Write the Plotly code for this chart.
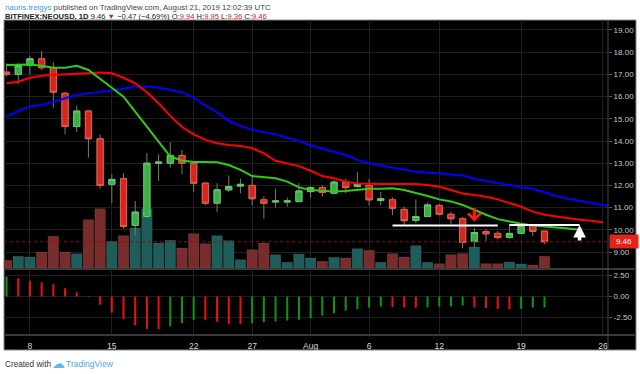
import plotly.graph_objects as go
import pandas as pd
import numpy as np

# ---------------- data ----------------
dates = pd.date_range("2019-07-06", "2019-08-21", freq="D")

open_ = [17.1, 17.0, 17.4, 17.7, 17.3, 16.15, 14.65, 15.35, 14.1, 12.05, 12.3, 10.2, 10.6,
         13.0, 13.0, 13.35, 13.0, 12.1, 11.2, 11.8, 11.97, 12.0, 11.35, 11.25, 11.25, 11.27,
         11.72, 11.9, 11.65, 12.15, 11.95, 12.0, 11.32, 11.35, 10.92, 10.42, 10.6, 11.1, 10.7,
         10.5, 9.47, 9.92, 9.84, 9.66, 9.84, 10.19, 9.94]
high = [17.5, 17.5, 17.85, 18.05, 17.55, 16.2, 15.6, 15.4, 14.3, 12.5, 12.55, 11.3, 13.45,
        13.4, 13.95, 13.6, 13.1, 12.15, 12.1, 12.45, 12.3, 12.4, 11.5, 11.85, 11.45, 12.1,
        11.95, 12.0, 12.25, 12.3, 12.6, 12.3, 11.7, 11.46, 11.05, 11.37, 11.22, 11.15, 10.82,
        10.57, 10.08, 10.03, 9.95, 10.23, 10.25, 10.23, 9.95]
low = [16.9, 16.55, 17.0, 17.2, 15.5, 14.3, 14.4, 13.25, 11.85, 11.2, 10.05, 9.75, 10.55,
       12.2, 12.8, 12.5, 11.7, 11.1, 10.8, 11.7, 11.65, 11.1, 10.5, 11.0, 11.05, 11.25,
       11.45, 11.5, 11.6, 11.65, 11.9, 11.1, 11.1, 10.66, 10.22, 10.3, 10.58, 10.65, 10.27,
       9.17, 9.21, 9.5, 9.57, 9.6, 9.82, 9.72, 9.36]
close = [17.0, 17.4, 17.7, 17.3, 16.2, 14.65, 15.35, 14.1, 12.0, 12.27, 10.15, 10.8, 13.0,
         13.05, 13.35, 13.0, 12.1, 11.2, 11.8, 11.95, 12.05, 11.4, 11.2, 11.3, 11.3, 11.75,
         11.9, 11.68, 12.15, 11.9, 12.05, 11.35, 11.4, 10.97, 10.41, 10.6, 11.12, 10.7, 10.5,
         9.43, 9.88, 9.82, 9.65, 9.84, 10.18, 9.93, 9.46]
volume = [7.6, 11.7, 11.0, 16.0, 31.7, 16.0, 14.3, 48.3, 59.3, 26.7, 32.3, 40.0, 59.3,
          25.0, 27.7, 20.0, 34.3, 24.3, 32.3, 27.3, 8.3, 18.3, 25.0, 13.3, 5.7, 14.0,
          10.0, 6.7, 10.7, 10.0, 19.3, 17.7, 5.7, 14.3, 11.0, 22.3, 5.7, 4.3, 13.3,
          14.3, 21.0, 4.3, 4.3, 6.0, 4.0, 3.0, 11.7]
oscillator = [2.36, 2.17, 1.88, 1.69, 1.45, 0.98, 0.5, -0.08, -0.99, -1.92, -2.67, -3.43, -3.87,
              -3.9, -3.57, -3.17, -2.79, -2.82, -3.02, -3.25, -3.29, -3.17, -3.05, -2.98, -2.86, -2.78,
              -2.58, -2.28, -2.0, -1.68, -1.5, -1.31, -1.19, -1.27, -1.31, -1.33, -1.30, -1.19, -1.18,
              -1.07, -1.31, -1.39, -1.47, -1.5, -1.46, -1.31, -1.30]

# alligator lines (shifted forward beyond the last candle)
lips_green = [17.42, 17.45, 17.45, 17.39, 17.3, 17.3, 17.39, 17.2, 16.82, 16.4, 16.0, 15.32, 14.64,
              13.94, 13.3, 13.12, 13.05, 13.05, 13.04, 12.92, 12.7, 12.42, 12.36, 12.32, 12.17, 11.91,
              11.79, 11.75, 11.72, 11.75, 11.79, 11.85, 11.85, 11.87, 11.79, 11.67, 11.52, 11.37, 11.28,
              11.12, 10.89, 10.68, 10.48, 10.37, 10.27, 10.19, 10.15, 10.12, 10.06, 10.0]
teeth_red = [16.6, 16.67, 16.85, 16.94, 16.97, 17.0, 17.0, 17.05, 17.09, 17.05, 16.85, 16.6, 16.2,
             15.7, 15.13, 14.63, 14.3, 14.05, 13.9, 13.82, 13.78, 13.67, 13.45, 13.11, 13.0, 12.87,
             12.66, 12.42, 12.32, 12.17, 12.09, 12.06, 12.06, 12.06, 12.07, 12.06, 12.02, 11.94, 11.79,
             11.64, 11.57, 11.49, 11.37, 11.22, 11.04, 10.82, 10.68, 10.6, 10.52, 10.45, 10.41, 10.33]
jaw_blue = [15.1, 15.35, 15.55, 15.62, 15.77, 15.92, 16.07, 16.15, 16.2, 16.27, 16.35, 16.45, 16.45,
            16.4, 16.3, 16.2, 15.95, 15.6, 15.3, 14.9, 14.68, 14.5, 14.4, 14.3, 14.15, 14.0,
            13.8, 13.65, 13.5, 13.37, 13.15, 13.0, 12.9, 12.8, 12.72, 12.62, 12.58, 12.54, 12.5,
            12.45, 12.3, 12.2, 12.12, 12.0, 11.92, 11.85, 11.68, 11.52, 11.4, 11.3, 11.2, 11.12, 11.05]

date_tick_vals = ["2019-07-08", "2019-07-15", "2019-07-22", "2019-07-27", "2019-08-01",
                  "2019-08-06", "2019-08-12", "2019-08-19", "2019-08-26"]
date_tick_text = ["8", "15", "22", "27", "Aug", "6", "12", "19", "26"]
price_ticks = [9, 10, 11, 12, 13, 14, 15, 16, 17, 18, 19]
osc_ticks = [-2.5, 0.0, 2.5]
osc_tick_text = ["-2.50", "0.00", "2.50"]
last_price = 9.46

# drawings on the chart
level_lines = [("2019-08-08", "2019-08-17", 10.19), ("2019-08-18", "2019-08-24", 10.22)]
down_arrow = ("2019-08-15", 10.37)
up_arrow = ("2019-08-24", 10.22)

# ---------------- styling ----------------
W, H = 640, 374
ML, MR, MT, MB = 4, 4, 20, 24
PW, PH = W - ML - MR, H - MT - MB


def px_x(px):
    return (px - ML) / PW


def px_y(py):
    return (H - MB - py) / PH


XD = px_x(608)
MAIN_DOM = [px_y(268), 1.0]
OSC_DOM = [px_y(335), px_y(270)]

GRID = "#1f1f1f"
TXT = "#c8c8c8"
FONT = "Liberation Sans"
RED_FILL, RED_EDGE = "#d3271f", "#ec5a4d"
GRN_FILL, GRN_EDGE = "#3aaf48", "#62cc6c"
DAY_MS = 86400000

up = [c >= o for o, c in zip(open_, close)]
vol_colors = ["#1d5e5a" if u else "#7a2c2c" for u in up]
osc_colors = ["#0a9a10" if (i == 0 or v >= oscillator[i - 1]) else "#f01010"
              for i, v in enumerate(oscillator)]

fig = go.Figure()

# volume (base layer)
fig.add_trace(go.Bar(x=dates, y=volume, xaxis="x", yaxis="y",
                     marker=dict(color=vol_colors, line=dict(width=0.6, color="rgba(120,120,120,0.35)")),
                     width=0.9 * DAY_MS, hoverinfo="skip"))

# candles: wicks
fig.add_trace(go.Candlestick(x=dates, open=open_, high=high, low=low, close=close,
                             xaxis="x", yaxis="y3", whiskerwidth=0,
                             increasing=dict(line=dict(color="#7a7a7a", width=1), fillcolor=GRN_FILL),
                             decreasing=dict(line=dict(color="#7a7a7a", width=1), fillcolor=RED_FILL),
                             hoverinfo="skip"))
# candles: bodies
body_hi = np.maximum(open_, close)
body_lo = np.minimum(open_, close)
fig.add_trace(go.Candlestick(x=dates, open=open_, high=body_hi, low=body_lo, close=close,
                             xaxis="x", yaxis="y3", whiskerwidth=0,
                             increasing=dict(line=dict(color=GRN_EDGE, width=1), fillcolor=GRN_FILL),
                             decreasing=dict(line=dict(color=RED_EDGE, width=1), fillcolor=RED_FILL),
                             hoverinfo="skip"))

# alligator
fig.add_trace(go.Scatter(x=pd.date_range("2019-07-06", periods=len(jaw_blue)), y=jaw_blue,
                         mode="lines", line=dict(color="#0000ff", width=2), xaxis="x", yaxis="y3"))
fig.add_trace(go.Scatter(x=pd.date_range("2019-07-06", periods=len(teeth_red)), y=teeth_red,
                         mode="lines", line=dict(color="#ff0000", width=2), xaxis="x", yaxis="y3"))
fig.add_trace(go.Scatter(x=pd.date_range("2019-07-06", periods=len(lips_green)), y=lips_green,
                         mode="lines", line=dict(color="#33cc14", width=2), xaxis="x", yaxis="y3"))

# oscillator
fig.add_trace(go.Bar(x=dates, y=oscillator, xaxis="x2", yaxis="y2",
                     marker=dict(color=osc_colors, line=dict(width=0)),
                     width=0.17 * DAY_MS, hoverinfo="skip"))

x_start = pd.Timestamp("2019-07-08") - pd.Timedelta(days=2.22)
x_end = pd.Timestamp("2019-07-08") + pd.Timedelta(days=49.43)

axis_common = dict(type="date", range=[x_start, x_end], domain=[0, XD],
                   tickvals=date_tick_vals, ticktext=date_tick_text,
                   showgrid=True, gridcolor=GRID, gridwidth=1, zeroline=False,
                   showline=False, fixedrange=True)

fig.update_layout(
    width=W, height=H, margin=dict(l=ML, r=MR, t=MT, b=MB),
    paper_bgcolor="white", plot_bgcolor="rgba(0,0,0,0)",
    showlegend=False, barmode="overlay", boxgap=0.25,
    font=dict(family=FONT, color=TXT, size=8),
    xaxis=dict(**axis_common, anchor="y", showticklabels=False, rangeslider=dict(visible=False)),
    xaxis2=dict(**axis_common, anchor="y2", showticklabels=True,
                tickfont=dict(size=8.5, color="#d8d8d8", family=FONT), ticks="", ticklabelstandoff=4),
    yaxis=dict(domain=MAIN_DOM, range=[0, 248], visible=False, fixedrange=True, anchor="x"),
    yaxis3=dict(overlaying="y", anchor="x", side="right", range=[8.28, 19.45],
                tickvals=price_ticks, ticktext=[f"{v:.2f}" for v in price_ticks],
                showgrid=True, gridcolor=GRID, zeroline=False, ticks="outside", ticklen=3,
                tickcolor="#5a5a5a", tickfont=dict(size=8, color=TXT, family=FONT), fixedrange=True),
    yaxis2=dict(domain=OSC_DOM, anchor="x2", side="right", range=[-4.58, 3.15],
                tickvals=osc_ticks, ticktext=osc_tick_text,
                showgrid=True, gridcolor=GRID, zeroline=False, ticks="outside", ticklen=3,
                tickcolor="#5a5a5a", tickfont=dict(size=8, color=TXT, family=FONT), fixedrange=True),
)

shapes = [
    dict(type="rect", xref="paper", yref="paper", x0=0, x1=1, y0=0, y1=1,
         fillcolor="#000000", line=dict(color="#8a8a8a", width=1), layer="below"),
    dict(type="line", xref="paper", yref="paper", x0=0, x1=1, y0=px_y(269), y1=px_y(269),
         line=dict(color="#3a3a3a", width=2)),
    dict(type="line", xref="paper", yref="paper", x0=0, x1=1, y0=px_y(335), y1=px_y(335),
         line=dict(color="#3a3a3a", width=2)),
    dict(type="line", xref="paper", yref="paper", x0=XD, x1=XD, y0=0, y1=1,
         line=dict(color="#4a4a4a", width=1)),
    dict(type="line", xref="paper", yref="y3", x0=0, x1=XD, y0=last_price, y1=last_price,
         line=dict(color="#8a1010", width=1, dash="dot")),
]
for x0, x1, yv in level_lines:
    shapes.append(dict(type="line", xref="x", yref="y3", x0=x0, x1=x1, y0=yv, y1=yv,
                       line=dict(color="#ffffff", width=2)))
fig.update_layout(shapes=shapes)

ann = []
# arrows
ann.append(dict(x=down_arrow[0], y=down_arrow[1], xref="x", yref="y3", text="", showarrow=True,
                ax=0, ay=-15, arrowcolor="#ff1a1a", arrowwidth=3, arrowhead=4, arrowsize=0.8))
ann.append(dict(x=up_arrow[0], y=up_arrow[1], xref="x", yref="y3", text="", showarrow=True,
                ax=0, ay=17, arrowcolor="#ffffff", arrowwidth=3.6, arrowhead=2, arrowsize=0.7))
# last price label
ann.append(dict(x=XD, y=last_price, xref="paper", yref="y3", xanchor="left", yanchor="middle",
                text="9.46", showarrow=False, bgcolor="#e32219", borderpad=2, width=24,
                font=dict(size=8, color="white", family=FONT), xshift=1))
# header
ann.append(dict(x=0, y=px_y(7), xref="paper", yref="paper", xanchor="left", yanchor="middle",
                showarrow=False, xshift=-1,
                text="<span style='color:#3d9be9'>nauris.treigys</span> published on TradingView.com, "
                     "August 21, 2019 12:02:39 UTC",
                font=dict(size=7.8, color="#444444", family=FONT)))
ann.append(dict(x=0, y=px_y(16.5), xref="paper", yref="paper", xanchor="left", yanchor="middle",
                showarrow=False, xshift=-1,
                text="<b>BITFINEX:NEOUSD, 1D</b> 9.46 <span style='color:#d0201a'>▼</span> "
                     "−0.47 (−4.69%) O:<span style='color:#d0201a'>9.94</span> "
                     "H:<span style='color:#d0201a'>9.95</span> "
                     "L:<span style='color:#d0201a'>9.36</span> "
                     "C:<span style='color:#d0201a'>9.46</span>",
                font=dict(size=7.6, color="#222222", family=FONT)))
# footer
ann.append(dict(x=0, y=px_y(364), xref="paper", yref="paper", xanchor="left", yanchor="middle",
                showarrow=False, xshift=-1, text="Created with",
                font=dict(size=8.2, color="#333333", family=FONT)))
ann.append(dict(x=px_x(50), y=px_y(363), xref="paper", yref="paper", xanchor="left", yanchor="middle",
                showarrow=False, text="☁", font=dict(size=13, color="#5fb8ec", family="DejaVu Sans")))
ann.append(dict(x=px_x(64), y=px_y(364), xref="paper", yref="paper", xanchor="left", yanchor="middle",
                showarrow=False, text="TradingView",
                font=dict(size=8.5, color="#4aa8e6", family=FONT)))
fig.update_layout(annotations=ann)

fig.write_html("out.html", config={"displayModeBar": False, "staticPlot": True},
               post_script="document.body.style.margin='0';document.body.style.padding='0';")
